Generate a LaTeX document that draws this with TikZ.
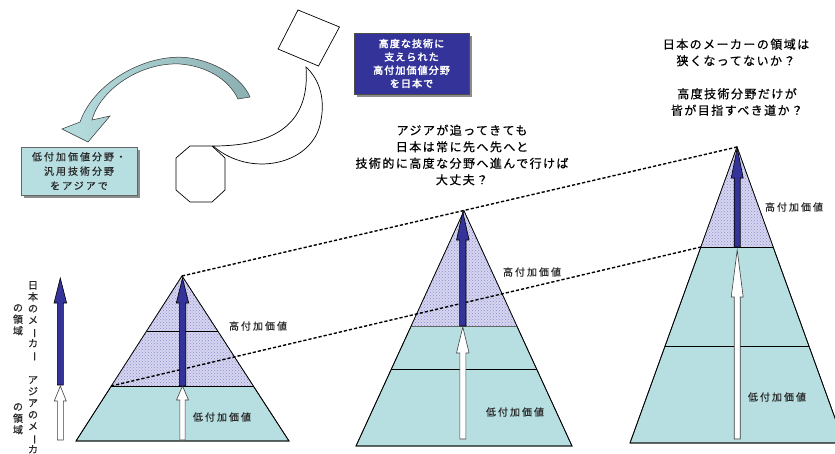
\documentclass[tikz,border=0pt]{standalone}
\usepackage{fontspec}
\usetikzlibrary{patterns}
\newfontfamily\jpA[LetterSpace=20,FakeBold=0.6]{Noto Sans CJK JP}
\newfontfamily\jpB[LetterSpace=12,FakeBold=0.6]{Noto Sans CJK JP}
\newfontfamily\jpV[FakeBold=0.6]{Noto Sans CJK JP}
\newfontfamily\jpBold[FakeBold=2.8,LetterSpace=11]{Noto Sans CJK JP}
\definecolor{navy}{RGB}{51,51,153}
\definecolor{lteal}{RGB}{183,222,224}
\definecolor{gteal}{RGB}{140,175,177}
\definecolor{lav}{RGB}{214,214,240}
\definecolor{dotc}{RGB}{140,140,205}
\definecolor{txt}{RGB}{40,40,40}
\newcommand{\vbar}{\rotatebox[origin=c]{-90}{ー}}
\newcommand{\blockarr}[7]{\filldraw[#7] ({#1-#5},#2) -- ({#1-#5},{#3+#4}) -- ({#1-#6},{#3+#4}) -- (#1,#3) -- ({#1+#6},{#3+#4}) -- ({#1+#5},{#3+#4}) -- ({#1+#5},#2) -- cycle;}
\tikzset{
  pyr/.style={fill=lteal, draw=black, line width=0.7pt},
  hatchfill/.style={fill=lav},
  hatchdots/.style={pattern=crosshatch dots, pattern color=dotc},
  layerline/.style={draw=black, line width=0.7pt},
  dashline/.style={draw=black, line width=1.4pt, dash pattern=on 3.2pt off 2pt},
  bluearr/.style={fill=navy, draw=black, line width=0.6pt},
  whitearr/.style={fill=white, draw=black!75, line width=0.6pt},
  lbl/.style={font=\jpA\fontsize{10}{12}\selectfont, text=txt, inner sep=0pt},
  bigtext/.style={font=\jpB\fontsize{12}{16.5}\selectfont, text=black, align=center, inner sep=0pt},
  vtext/.style={font=\jpV\fontsize{10}{11.6}\selectfont, text=txt, align=center, inner sep=0pt, anchor=north},
  shadowbox/.style={fill=black!45, draw=none},
  outline/.style={fill=white, draw=black, line width=0.7pt}
}
\begin{document}
\begin{tikzpicture}[x=1pt,y=-1pt,line join=miter]
\clip (0,0) rectangle (835,453);
\fill[white] (0,0) rectangle (835,453);

% ---------- pyramid 1 ----------
\coordinate (A1) at (182,276);
\coordinate (H1) at (111,386);
\filldraw[pyr] (76,441) -- (289,441) -- (A1) -- cycle;
\fill[hatchfill] (H1) -- (253,386) -- (A1) -- cycle;
\fill[hatchdots] (H1) -- (253,386) -- (A1) -- cycle;
\draw[layerline] (H1) -- (253,386);
\draw[layerline] (146.5,331) -- (217.5,331);
\draw[line width=0.7pt] (76,441) -- (289,441) -- (A1) -- cycle;

% ---------- pyramid 2 ----------
\coordinate (A2) at (464,211);
\filldraw[pyr] (356,446) -- (572,446) -- (A2) -- cycle;
\fill[hatchfill] (411.2,326) -- (516.9,326) -- (A2) -- cycle;
\fill[hatchdots] (411.2,326) -- (516.9,326) -- (A2) -- cycle;
\draw[draw=black!60, line width=0.9pt] (411.2,326) -- (516.9,326);
\draw[layerline] (391.4,369) -- (536.6,369);
\draw[line width=0.7pt] (356,446) -- (572,446) -- (A2) -- cycle;

% ---------- pyramid 3 ----------
\coordinate (A3) at (737,147);
\coordinate (H3) at (700.9,247);
\filldraw[pyr] (630,443) -- (844,443) -- (A3) -- cycle;
\fill[hatchfill] (H3) -- (773.1,247) -- (A3) -- cycle;
\fill[hatchdots] (H3) -- (773.1,247) -- (A3) -- cycle;
\draw[layerline] (H3) -- (773.1,247);
\draw[layerline] (665.1,346) -- (808.9,346);
\draw[line width=0.7pt] (630,443) -- (844,443) -- (A3) -- cycle;

% ---------- dashed connectors ----------
\draw[dashline] (A1) -- (A3);
\draw[dashline] (H1) -- (H3);

% ---------- arrows ----------
\blockarr{182.5}{386}{278}{25}{3.2}{6.2}{bluearr}
\blockarr{182.5}{440}{386}{14}{2.6}{6}{whitearr}
\blockarr{462.8}{326}{212}{28}{3.2}{6.3}{bluearr}
\blockarr{462.8}{439}{327}{26}{3}{6.3}{whitearr}
\blockarr{737.2}{247}{148}{30}{3}{6}{bluearr}
\blockarr{737.2}{439}{250}{47}{3}{6}{whitearr}
\blockarr{60.3}{385}{278}{25}{3}{6.3}{bluearr}
\blockarr{60.3}{440}{386}{15}{3}{6}{whitearr}

% ---------- pyramid labels ----------
\node[lbl] (hi1) at (258,326) {高付加価値};
\node[lbl] (lo1) at (222,417) {低付加価値};
\node[lbl] (hi2) at (532,272) {高付加価値};
\node[lbl] (lo2) at (515,412) {低付加価値};
\node[lbl] (hi3) at (794,207) {高付加価値};
\node[lbl] (lo3) at (777,397) {低付加価値};

% ---------- vertical labels ----------
\node[vtext] (vjp1) at (33,281) {日\\本\\の\\メ\\\vbar\\カ\\\vbar};
\node[vtext] (vjp2) at (18,304) {の\\領\\域};
\node[vtext] (vas1) at (33,376) {ア\\ジ\\ア\\の\\メ\\\vbar\\カ};
\node[vtext] (vas2) at (18,403) {の\\領\\域};

% ---------- big texts ----------
\node[bigtext] (q1) at (736,52.5) {日本のメーカーの領域は\\狭くなってないか？};
\node[bigtext] (q2) at (737,102) {高度技術分野だけが\\皆が目指すべき道か？};
\node[bigtext] (q3) at (462,155) {アジアが追ってきても\\日本は常に先へ先へと\\技術的に高度な分野へ進んで行けば\\大丈夫？};

% ---------- blue box ----------
\fill[shadowbox] (356.5,35.5) rectangle (471.5,96.5);
\node[fill=navy, draw=black!70, line width=0.6pt, minimum width=115pt, minimum height=61pt, inner sep=0pt,
      text=white, align=center, font=\jpBold\fontsize{10}{13.3}\selectfont] (bluebox) at (411.5,63.5)
      {高度な技術に\\支えられた\\高付加価値分野\\を日本で};

% ---------- teal box ----------
\fill[shadowbox] (23.5,149.5) rectangle (139.5,197.5);
\node[fill=lteal, draw=black!60, line width=0.6pt, minimum width=116pt, minimum height=48pt, inner sep=0pt,
      text=txt, align=center, font=\jpA\fontsize{10}{14.5}\selectfont] (tealbox) at (79,171)
      {低付加価値分野・\\汎用技術分野\\をアジアで};

% ---------- rotated square ----------
\draw[outline] (298,10) -- (339.5,27) -- (318.5,66) -- (278,49) -- cycle;

% ---------- crescent ----------
\draw[outline] (306,67) .. controls (310,120) and (280,146) .. (213,146)
  .. controls (250,178) and (310,165) .. (320,125)
  .. controls (326,100) and (320,80) .. (306,67) -- cycle;

% ---------- octagon ----------
\draw[outline] (190,146) -- (212,146) -- (225,158) -- (225,190) -- (212,202) -- (190,202) -- (176,190) -- (176,158) -- cycle;

% ---------- curved teal arrow ----------
\draw[left color=lteal, right color=gteal, draw=black!80, line width=0.5pt]
  (80,122) .. controls (95,80) and (150,52) .. (190,58)
  .. controls (220,63) and (243,80) .. (250,97)
  -- (238,99)
  .. controls (228,78) and (205,66) .. (180,64)
  .. controls (140,62) and (100,90) .. (92,120)
  -- (110,116) -- (88,142) -- (62,129) -- cycle;
\end{tikzpicture}
\end{document}
